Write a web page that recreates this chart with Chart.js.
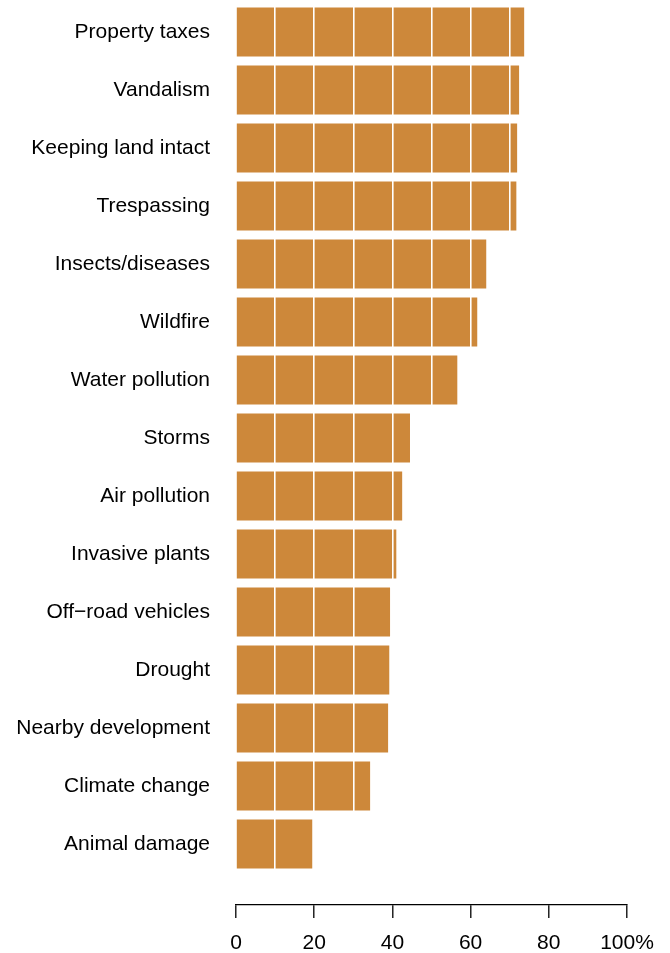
<!DOCTYPE html>
<html>
<head>
<meta charset="utf-8">
<script src="https://cdn.jsdelivr.net/npm/chart.js@4/dist/chart.umd.min.js"></script>
<style>
  html, body { margin: 0; padding: 0; background: #fff; }
  canvas { display: block; }
</style>
</head>
<body>
<canvas id="chart" width="670" height="953"></canvas>
<script>
// concerns, top to bottom
const categories = [
    "Property taxes", "Vandalism", "Keeping land intact", "Trespassing",
    "Insects/diseases", "Wildfire", "Water pollution", "Storms",
    "Air pollution", "Invasive plants", "Off\u2212road vehicles", "Drought",
    "Nearby development", "Climate change", "Animal damage"
];
// percent of owners
const percents = [73.7, 72.4, 71.9, 71.7, 64.0, 61.7, 56.6, 44.5, 42.5, 41.0, 39.4, 39.2, 38.9, 34.3, 19.5];
const xTicks = [0, 20, 40, 60, 80, 100];

const FONT = { family: "'Liberation Sans', Arial, Helvetica, sans-serif", size: 21 };

document.addEventListener("DOMContentLoaded", function () {

    const ctx = document.getElementById("chart").getContext("2d");

    new Chart(ctx, {
        type: "bar",
        data: {
            datasets: [{
                data: categories.map((c, i) => ({ x: percents[i], y: i })),
                backgroundColor: "#CD883A",
                borderWidth: 0,
                categoryPercentage: 1,
                barPercentage: 0.845
            }]
        },
        options: {
            indexAxis: "y",
            responsive: false,
            animation: false,
            layout: { padding: { left: 14, right: 43, top: 3, bottom: 0 } },
            plugins: {
                legend: { display: false },
                tooltip: { enabled: false }
            },
            scales: {
                x: {
                    type: "linear",
                    min: 0,
                    max: 100,
                    afterFit: s => { s.height = 48; s.paddingLeft = 0; s.paddingRight = 0; },
                    grid: {
                        z: 1,
                        color: c => (c.tick && c.tick.value > 0 && c.tick.value < 100) ? "#ffffff" : "rgba(0,0,0,0)",
                        lineWidth: 1.6,
                        tickLength: 13,
                        tickColor: c => xTicks.includes(c.tick.value) ? "#000" : "rgba(0,0,0,0)",
                        tickWidth: 1.3
                    },
                    border: { display: true, color: "#000", width: 1.3, z: 2 },
                    ticks: {
                        stepSize: 10,
                        autoSkip: false,
                        maxRotation: 0,
                        padding: 13,
                        color: "#000",
                        font: FONT,
                        callback: v => xTicks.includes(v) ? (v === 100 ? "100%" : String(v)) : ""
                    }
                },
                y: {
                    type: "linear",
                    reverse: true,
                    offset: false,
                    min: -0.5,
                    max: 15.05,
                    afterBuildTicks: s => { s.ticks = categories.map((c, i) => ({ value: i })); },
                    afterFit: s => { s.width = 222; s.paddingTop = 0; s.paddingBottom = 0; },
                    grid: { display: false, drawTicks: false, offset: false },
                    border: { display: false },
                    ticks: {
                        padding: 26,
                        color: "#000",
                        font: FONT,
                        autoSkip: false,
                        callback: v => categories[v] || ""
                    }
                }
            }
        }
    });

});
</script>
</body>
</html>
